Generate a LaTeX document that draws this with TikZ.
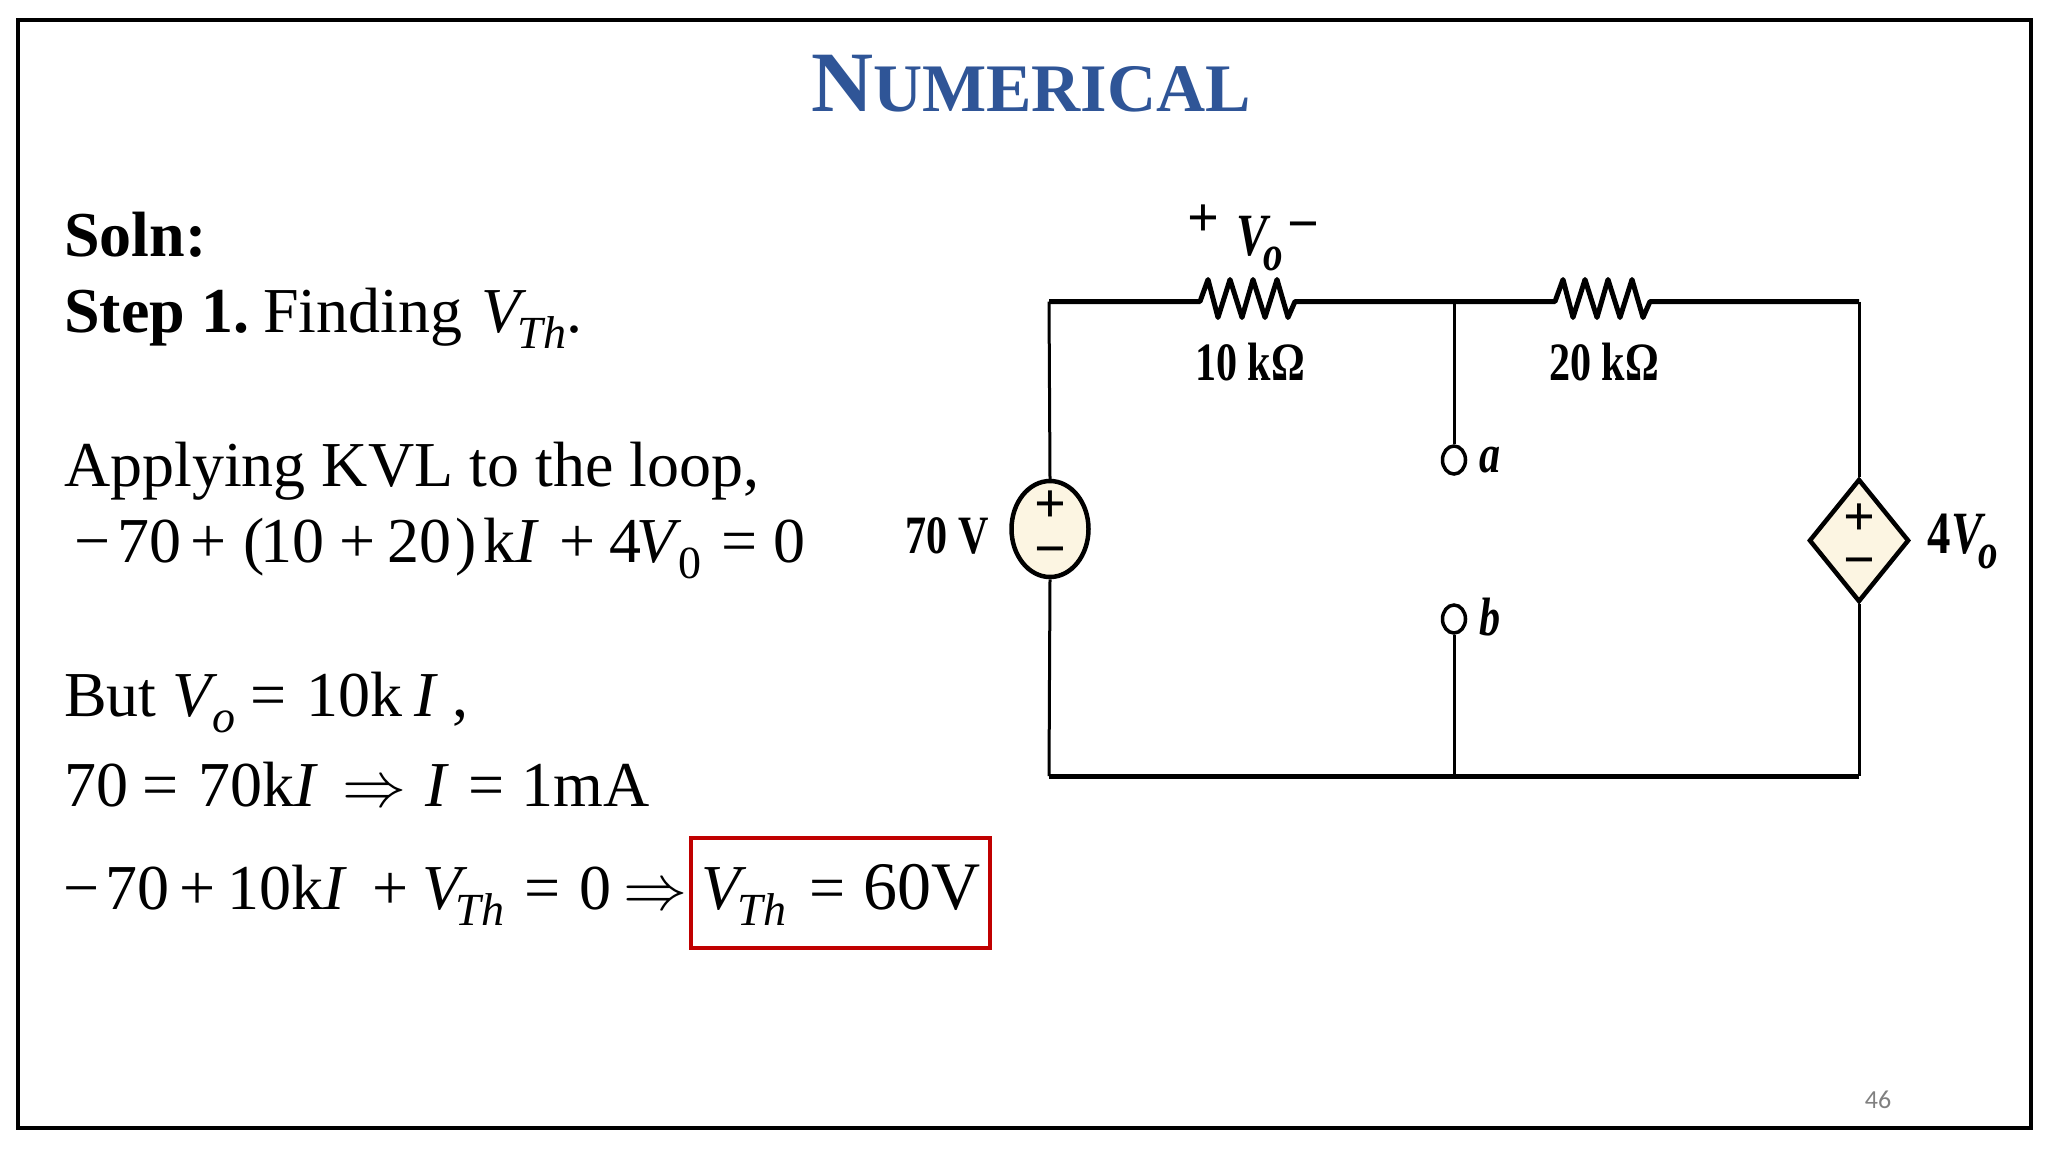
\documentclass[tikz,border=0pt]{standalone}
\usepackage{fix-cm}
\usepackage{fontspec}
\setmainfont{Liberation Serif}
\newfontfamily\numfont{Carlito}
\newfontfamily\cirfont[FakeStretch=0.78]{Liberation Serif}
\usetikzlibrary{positioning,shapes.geometric}
\definecolor{titleblue}{HTML}{2F5597}
\definecolor{boxred}{HTML}{C00000}
\definecolor{srccream}{HTML}{FCF5E2}
\newcommand{\gap}[1]{\kern#1pt\relax}
\newcommand{\subs}[2][0]{\kern#1pt\raisebox{-16pt}{\fontsize{46}{46}\selectfont\textit{#2}}}
\newcommand{\cirsub}[1]{\kern-7pt\raisebox{-15pt}{\fontsize{50}{50}\selectfont\textit{#1}}}
\newcommand{\wiggle}{-- ++(8,-22) -- ++(10,38) -- ++(12,-38) -- ++(12,38) -- ++(11,-38) -- ++(12,38) -- ++(12,-38) -- ++(11,38) -- ++(7,-16)}
\begin{document}
\begin{tikzpicture}[x=1pt,y=-1pt,
    txt/.style = { anchor = base west, inner sep = 0pt, font = \fontsize{64}{64}\selectfont },
    cir/.style = { anchor = base, inner sep = 0pt, font = \cirfont\bfseries\fontsize{54}{54}\selectfont },
    civ/.style = { cir, font = \cirfont\bfseries\fontsize{60}{60}\selectfont },
    pol/.style = { anchor = base, inner sep = 0pt, font = \bfseries\fontsize{56}{56}\selectfont },
    wire/.style = { line width = 3pt },
    bus/.style = { line width = 5pt, line join = round },
    src/.style = { draw, line width = 4.5pt, fill = srccream, inner sep = 0pt },
    term/.style = { draw, ellipse, line width = 3.5pt, fill = white, minimum width = 23pt, minimum height = 28pt, inner sep = 0pt }]
    \useasboundingbox (0,0) rectangle (2048,1152);
    \node[draw, line width = 4pt, minimum width = 2013pt, minimum height = 1108pt, inner sep = 0pt] (frame) at (1024,574) {};

    \node[anchor = base, inner sep = 0pt, text = titleblue, font = \bfseries\fontsize{68}{68}\selectfont] (title) at (1031,111) {{\fontsize{86}{86}\selectfont N}UMERICAL};

    % text on the left
    \node[txt] (soln) at (64,256) {\textbf{Soln:}};
    \node[txt] (step) at (64,332) {\textbf{Step 1.}\gap{14}Finding\gap{19}\textit{V}\subs[-9]{Th}.};
    \node[txt] (kvl) at (64,486) {Applying KVL to the loop,};
    \node[txt] (eqa) at (74,562) {−\gap{7}70\gap{9}+\gap{17}(\gap{-4}10\gap{15}+\gap{12}20\gap{4})\gap{6}k\textit{I}\gap{21}+\gap{13}4\gap{-5}\textit{V}\subs[-3]{\textup{0}}\gap{20}=\gap{16}0};
    \node[txt] (but) at (64,716) {But\gap{16}\textit{V}\subs[-5]{o}\gap{15}=\gap{20}10k\gap{11}\textit{I}\gap{15},};
    \node[txt] (eqb) at (64,806) {70\gap{14}=\gap{20}70k\textit{I}\gap{24}$\Rightarrow$\gap{19}\textit{I}\gap{20}=\gap{17}1mA};
    \node[txt] (eqc) at (63,909) {−\gap{6}70\gap{10}+\gap{12}10k\textit{I}\gap{25}+\gap{14}\textit{V}\subs[-12]{Th}\gap{20}=\gap{19}0\gap{12}$\Rightarrow$};
    \node[txt] (vth) at (701,909) {\textit{V}\subs[-9]{Th}\gap{23}=\gap{18}{\fontsize{68}{68}\selectfont 60V}};
    \node[draw = boxred, line width = 4pt, minimum width = 299pt, minimum height = 110pt, inner sep = 0pt] (box) at (840.5,893) {};

    % circuit
    \node[src, ellipse, minimum width = 77pt, minimum height = 96pt] (vs) at (1050,529) {};
    \node[src, diamond, minimum width = 100pt, minimum height = 123pt] (dep) at (1859,540.5) {};
    \node[term] (a) at (1454,460) {};
    \node[term] (b) at (1454,619) {};
    \coordinate (tl) at (1049,301.5);
    \coordinate (tm) at (1454,301.5);
    \coordinate (tr) at (1859,301.5);
    \coordinate (bl) at (1049,776);
    \coordinate (bm) at (1454,776);
    \coordinate (br) at (1859,776);
    \coordinate (r1w) at (1200,301.5);
    \coordinate (r2w) at (1555,301.5);

    \draw[bus] (tl) -- (r1w) \wiggle -- (r2w) \wiggle -- (tr);
    \draw[bus] (bl) -- (br);
    \draw[wire] (tl) -- (vs.north);
    \draw[wire] (vs.south) -- (bl);
    \draw[wire] (tr) -- (dep.north);
    \draw[wire] (dep.south) -- (br);
    \draw[wire] (tm) -- (a.north);
    \draw[wire] (b.south) -- (bm);

    \node[pol] (vsp) at (1050,522) {\smash{+}};
    \node[pol] (vsm) at (1050,567) {\smash{−}};
    \node[pol] (depp) at (1859,535) {\smash{+}};
    \node[pol] (depm) at (1859,578) {\smash{−}};
    \node[pol] (vop) at (1203,236) {\smash{+}};
    \node[pol] (vom) at (1303,242) {\smash{−}};

    \node[civ] (vo) at (1260,255) {\textit{V}\cirsub{o}};
    \node[cir] (r1l) at (1250,380) {10 kΩ};
    \node[cir] (r2l) at (1604,380) {20 kΩ};
    \node[cir] (vsl) at (947,553) {70 V};
    \node[civ] (depl) at (1963,553) {4\textit{V}\cirsub{o}};
    \node[cir] (al) at (1490,472) {\textit{a}};
    \node[cir] (bl2) at (1490,635) {\textit{b}};

    \node[anchor = base, inner sep = 0pt, text = gray, font = \numfont\fontsize{26}{26}\selectfont] (num) at (1878,1108) {46};
\end{tikzpicture}
\end{document}
